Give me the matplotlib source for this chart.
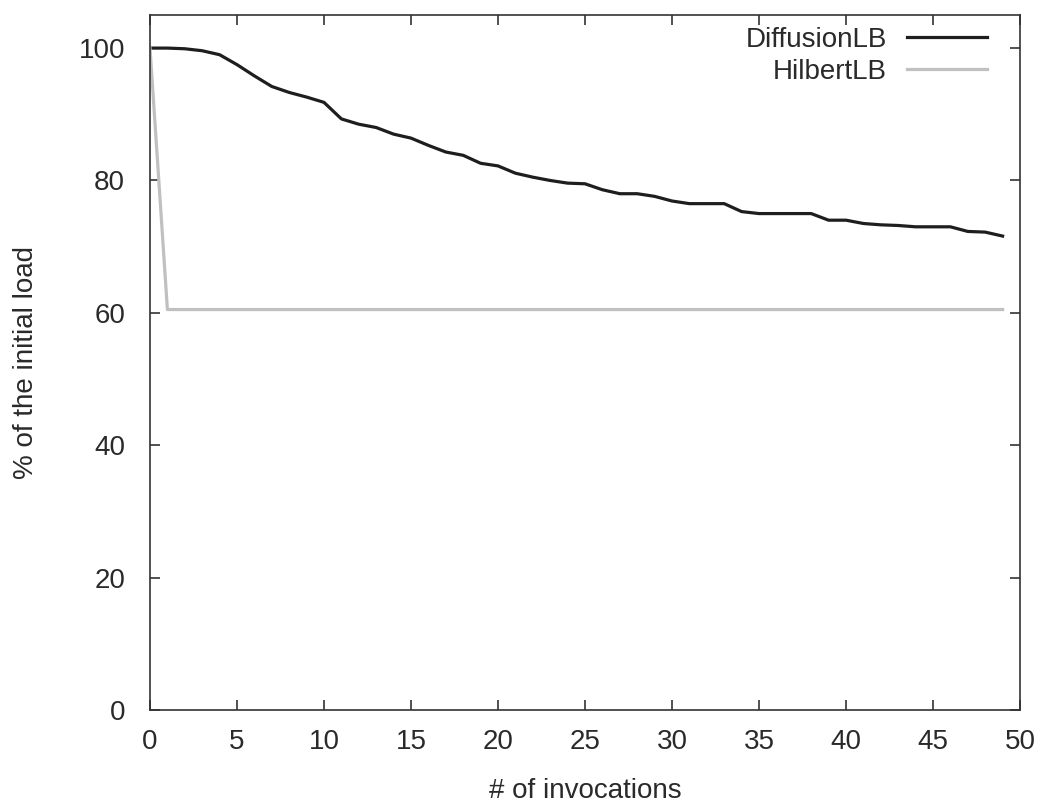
import matplotlib
matplotlib.use("Agg")
import matplotlib.pyplot as plt

# Load balancing comparison: remaining load per invocation
invocations = list(range(50))
diffusion_lb = [100.0, 100.0, 99.9, 99.6, 99.0, 97.5, 95.8, 94.2, 93.3, 92.6,
                91.8, 89.3, 88.5, 88.0, 87.0, 86.4, 85.3, 84.3, 83.8, 82.6,
                82.2, 81.1, 80.5, 80.0, 79.6, 79.5, 78.6, 78.0, 78.0, 77.6,
                76.9, 76.5, 76.5, 76.5, 75.3, 75.0, 75.0, 75.0, 75.0, 74.0,
                74.0, 73.5, 73.3, 73.2, 73.0, 73.0, 73.0, 72.3, 72.2, 71.6]
hilbert_lb = [100.0] + [60.5] * 49

x_ticks = [0, 5, 10, 15, 20, 25, 30, 35, 40, 45, 50]
y_ticks = [0, 20, 40, 60, 80, 100]

plt.rcParams['font.family'] = ['Liberation Sans', 'DejaVu Sans']
FS = 20
text_color = '#2a2a2a'

fig = plt.figure(figsize=(10.42, 8.06), dpi=100)
ax = fig.add_axes([150 / 1042, 1 - 710 / 806, 870 / 1042, 695 / 806])

ax.plot(invocations, diffusion_lb, color='#1e1e1e', lw=2.3, label='DiffusionLB')
ax.plot(invocations, hilbert_lb, color='#c0c0c0', lw=2.3, label='HilbertLB')

ax.set_xlim(0, 50)
ax.set_ylim(0, 105)
ax.set_xticks(x_ticks)
ax.set_yticks(y_ticks)

ax.tick_params(direction='in', length=7, width=1.2, top=True, right=True,
               labelsize=FS, colors='#333333', labelcolor=text_color)
ax.tick_params(axis='y', pad=18)
ax.tick_params(axis='x', pad=14)
for spine in ax.spines.values():
    spine.set_color('#333333')
    spine.set_linewidth(1.2)

ax.set_xlabel('# of invocations', fontsize=FS, color=text_color)
ax.set_ylabel('% of the initial load', fontsize=FS, color=text_color)
ax.xaxis.set_label_coords(0.5, -0.098)
ax.yaxis.set_label_coords(-0.128, 0.5)

leg = ax.legend(loc='upper right', frameon=False, markerfirst=False, fontsize=FS,
                handlelength=2.88, handletextpad=0.72, labelspacing=0.21,
                borderaxespad=0, borderpad=0, bbox_to_anchor=(0.962, 0.983))
for t in leg.get_texts():
    t.set_color(text_color)

fig.savefig('out.png', dpi=100, facecolor='white')
